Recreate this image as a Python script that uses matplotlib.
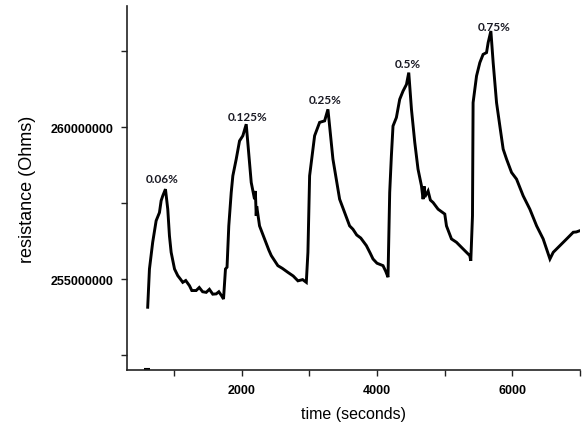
import matplotlib
matplotlib.use("Agg")
import matplotlib.pyplot as plt
from matplotlib.ticker import FixedLocator, FuncFormatter

# time in seconds, resistance in millions of Ohms
time_s = [607, 633, 681, 732, 781, 806, 830, 870,
          904, 929, 954, 1004, 1052, 1090, 1126, 1170, 1225, 1260, 1324, 1370, 1420, 1473, 1520, 1570, 1621, 1660, 1700, 1729,
          1758, 1781, 1807, 1843, 1867, 1917, 1966, 2015, 2065,
          2139, 2188, 2200, 2213, 2220, 2262, 2336, 2400, 2436, 2533, 2600, 2681, 2760, 2830, 2900, 2954,
          2978, 3003, 3077, 3151, 3225, 3274,
          3348, 3447, 3595, 3644, 3700, 3760, 3843, 3900, 3941, 4000, 4089, 4130, 4163,
          4188, 4213, 4237, 4287, 4336, 4385, 4436, 4470,
          4510, 4559, 4607, 4658, 4682, 4700, 4707, 4756, 4790, 4830, 4904, 5003, 5028, 5102, 5176, 5274, 5373, 5388,
          5413, 5422, 5473, 5522, 5570, 5621, 5645, 5685,
          5719, 5769, 5818, 5867, 5917, 5991, 6065, 6163, 6262, 6362, 6459, 6559,
          6608, 6707, 6806, 6904, 6950, 7000]
resistance_m = [254.07, 255.33, 256.21, 256.92, 257.19, 257.58, 257.74, 257.96,
                257.30, 256.42, 255.88, 255.33, 255.11, 255.0, 254.89, 254.95, 254.78, 254.62, 254.62, 254.72, 254.58, 254.56, 254.66, 254.50, 254.51, 254.58, 254.45, 254.34,
                255.33, 255.39, 256.75, 257.85, 258.40, 258.95, 259.55, 259.72, 260.10,
                258.18, 257.63, 257.9, 257.08, 257.4, 256.75, 256.32, 255.95, 255.77, 255.44, 255.35, 255.22, 255.10, 254.94, 254.98, 254.89,
                255.88, 258.40, 259.72, 260.16, 260.21, 260.59,
                258.95, 257.63, 256.75, 256.64, 256.45, 256.35, 256.10, 255.85, 255.66, 255.52, 255.44, 255.25, 255.06,
                257.85, 259.06, 260.04, 260.32, 260.92, 261.19, 261.41, 261.80,
                260.59, 259.50, 258.62, 258.07, 257.63, 258.05, 257.7, 257.90, 257.6, 257.52, 257.30, 257.14, 256.75, 256.32, 256.21, 255.99, 255.77, 255.60,
                257.08, 260.81, 261.69, 262.13, 262.40, 262.46, 262.79, 263.17,
                262.13, 260.81, 260.04, 259.28, 258.95, 258.51, 258.29, 257.74, 257.30, 256.75, 256.32, 255.66,
                255.88, 256.10, 256.32, 256.54, 256.55, 256.59]

stray_time = [590]
stray_res_m = [252.04]

labels = ["0.06%", "0.125%", "0.25%", "0.5%", "0.75%"]
label_time = [824, 2089, 3235, 4450, 5729]
label_res_m = [258.3, 260.37, 260.92, 262.1, 263.33]

fig = plt.figure(figsize=(5.85, 4.27), dpi=100)
ax = fig.add_axes([0.217, 0.131, 0.774, 0.853])

ax.plot(time_s, [r * 1e6 for r in resistance_m], color="black", lw=2.1,
        solid_joinstyle="miter")
ax.plot(stray_time, [r * 1e6 for r in stray_res_m], marker="_", color="black",
        markersize=4, mew=1.5, linestyle="none", clip_on=False)

for lab, t, r in zip(labels, label_time, label_res_m):
    ax.text(t, r * 1e6, lab, ha="center", va="center", fontsize=8.5,
            fontweight="bold", family="Lato", color="#1a1a24")

ax.set_xlim(300, 7000)
ax.set_ylim(252e6, 264e6)

ax.xaxis.set_major_locator(FixedLocator([2000, 4000, 6000]))
ax.xaxis.set_minor_locator(FixedLocator([1000, 3000, 5000, 7000]))
ax.yaxis.set_major_locator(FixedLocator([255e6, 260e6]))
ax.yaxis.set_minor_locator(FixedLocator([252.5e6, 257.5e6, 262.5e6]))
ax.yaxis.set_major_formatter(FuncFormatter(lambda v, p: f"{int(round(v))}"))
ax.xaxis.set_major_formatter(FuncFormatter(lambda v, p: f"{int(round(v))}"))

for s in ["top", "right"]:
    ax.spines[s].set_visible(False)
for s in ["left", "bottom"]:
    ax.spines[s].set_linewidth(1.2)
    ax.spines[s].set_color("#222222")

ax.tick_params(axis="both", which="both", direction="out", length=4, width=1,
               color="#222222")
for lbl in ax.get_xticklabels() + ax.get_yticklabels():
    lbl.set_fontweight("bold")
    lbl.set_fontsize(9)
    lbl.set_family("Liberation Sans")
ax.tick_params(axis="x", pad=6)
ax.tick_params(axis="y", pad=6)

ax.set_xlabel("time (seconds)", fontsize=11.5, family="Liberation Sans", labelpad=7)
ax.set_ylabel("resistance (Ohms)", fontsize=13, family="Liberation Sans", labelpad=10)

fig.savefig("out.png", dpi=100)
